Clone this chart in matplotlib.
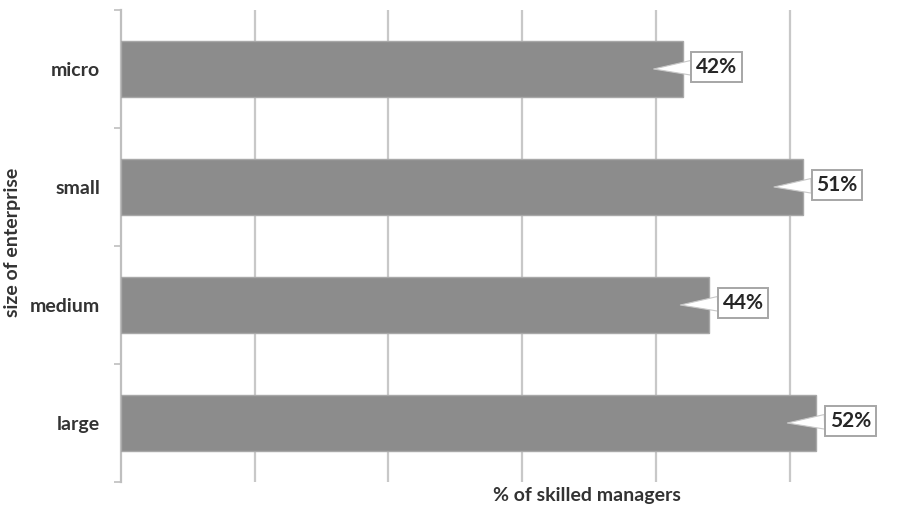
import matplotlib
matplotlib.use("Agg")
import matplotlib.pyplot as plt
from matplotlib.transforms import offset_copy

categories = ["micro", "small", "medium", "large"]
values = [42, 51, 44, 52]
labels = ["42%", "51%", "44%", "52%"]
grid_ticks = [10, 20, 30, 40, 50]

plt.rcParams['font.family'] = ['Lato', 'DejaVu Sans']

W, H = 918, 508
fig = plt.figure(figsize=(W / 100, H / 100), dpi=100)
ax = fig.add_axes([121 / W, 1 - 482 / H, 1 - 121 / W, (482 - 10) / H])

ypos = list(range(len(categories)))
ax.barh(ypos, values, height=0.47, color='#8c8c8c', edgecolor='#a8a8a8',
        linewidth=1, zorder=3)

ax.set_xlim(0, 59.6)
ax.set_ylim(3.5, -0.5)

ax.set_xticks(grid_ticks)
ax.set_xticklabels([])
ax.tick_params(axis='x', length=0)
ax.grid(axis='x', color='#c8c8c8', linewidth=1.6, zorder=0)
ax.set_axisbelow(True)

ax.set_yticks(ypos)
ax.set_yticklabels(categories, fontsize=14, fontweight='bold', color='#333333')
ax.set_yticks([-0.5, 0.5, 1.5, 2.5, 3.5], minor=True)
ax.tick_params(axis='y', which='major', length=0, pad=15)
ax.tick_params(axis='y', which='minor', length=5, width=1.2, color='#bfbfbf')

for s in ['top', 'right', 'bottom']:
    ax.spines[s].set_visible(False)
ax.spines['left'].set_color('#bfbfbf')
ax.spines['left'].set_linewidth(1.6)

tip_tr = offset_copy(ax.transData, fig=fig, x=-29, y=0, units='dots')
for i, (v, lab) in enumerate(zip(values, labels)):
    ax.annotate(lab, xy=(v, i), xycoords=tip_tr,
                xytext=(29 + 34, 2), textcoords='offset pixels',
                ha='center', va='center', fontsize=15, fontweight='bold',
                color='#262626', zorder=5,
                bbox=dict(boxstyle='square,pad=0.22', fc='white', ec='#a6a6a6', lw=1.4),
                arrowprops=dict(arrowstyle='wedge,tail_width=0.7,shrink_factor=0.5',
                                fc='white', ec='#c8c8c8', lw=0.8,
                                shrinkA=0, shrinkB=0))

fig.text(587 / W, 1 - 496 / H, "% of skilled managers", ha='center', va='center',
         fontsize=14, fontweight='bold', color='#333333')
fig.text(13 / W, 1 - 242 / H, "size of enterprise", ha='center', va='center',
         rotation=90, fontsize=14, fontweight='bold', color='#333333')

fig.savefig("out.png", dpi=100)
